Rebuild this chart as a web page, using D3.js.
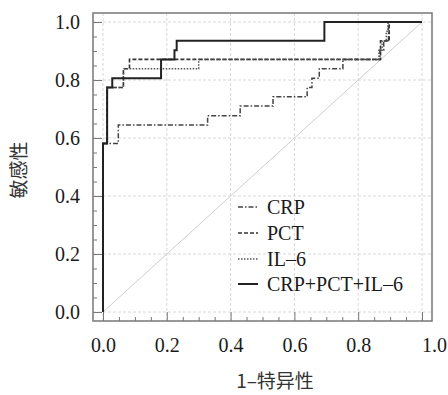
<!DOCTYPE html>
<html><head><meta charset="utf-8">
<script src="https://cdn.jsdelivr.net/npm/d3@7"></script>
<style>
html,body{margin:0;padding:0;background:#fff;}
svg{display:block;}
text{font-family:"Liberation Serif","Times New Roman",serif;fill:#1a1a1a;}
text.cjk{font-family:"Noto Sans CJK SC","Noto Sans",sans-serif;fill:#333;}
</style></head>
<body>
<svg id="c" width="448" height="395"></svg>
<script>
// ---- data (ROC corner points: false-positive rate, sensitivity) ----
const seriesNames = ["CRP", "PCT", "IL\u20136", "CRP+PCT+IL\u20136"];
const crpFpr  = [0, 0, 0.048, 0.328, 0.430, 0.533, 0.640, 0.655, 0.678, 0.752, 0.868, 0.880, 0.895, 1];
const crpTpr  = [0, 0.581, 0.645, 0.677, 0.710, 0.742, 0.774, 0.806, 0.839, 0.871, 0.903, 0.935, 1, 1];
const pctFpr  = [0, 0, 0.012, 0.064, 0.083, 0.870, 0.897, 1];
const pctTpr  = [0, 0.581, 0.774, 0.839, 0.871, 0.935, 1, 1];
const il6Fpr  = [0, 0, 0.012, 0.064, 0.300, 0.865, 0.875, 0.888, 0.893, 1];
const il6Tpr  = [0, 0.581, 0.774, 0.839, 0.871, 0.903, 0.935, 0.968, 1, 1];
const combFpr = [0, 0, 0.013, 0.029, 0.182, 0.224, 0.231, 0.694, 1];
const combTpr = [0, 0.581, 0.774, 0.806, 0.871, 0.903, 0.935, 1, 1];
const majorTicks = [0, 0.2, 0.4, 0.6, 0.8, 1.0];
const tickLabels = ["0.0", "0.2", "0.4", "0.6", "0.8", "1.0"];
const minorTicks = [0.05,0.1,0.15,0.25,0.3,0.35,0.45,0.5,0.55,0.65,0.7,0.75,0.85,0.9,0.95];
const xTitle = "1\u2013特异性";
const yTitle = "敏感性";

// ---- layout ----
const svg = d3.select("#c");
const x = d3.scaleLinear().domain([0, 1]).range([103, 422]);
const y = d3.scaleLinear().domain([0, 1]).range([312, 22]);
const fL = 93, fR = 432, fT = 13, fB = 321;

// grid
const g = svg.append("g");
g.selectAll(".vg").data(majorTicks).join("line")
  .attr("x1", d => x(d)).attr("x2", d => x(d)).attr("y1", fT).attr("y2", fB)
  .attr("stroke", "#d8d8d8").attr("stroke-width", 1).attr("stroke-dasharray", "3,2");
g.selectAll(".hg").data(majorTicks).join("line")
  .attr("y1", d => y(d)).attr("y2", d => y(d)).attr("x1", fL).attr("x2", fR)
  .attr("stroke", "#d8d8d8").attr("stroke-width", 1).attr("stroke-dasharray", "3,2");

// diagonal reference
svg.append("line").attr("x1", x(0)).attr("y1", y(0)).attr("x2", x(1)).attr("y2", y(1))
  .attr("stroke", "#cfcfcf").attr("stroke-width", 1);

// axes
const fmt = d => tickLabels[majorTicks.indexOf(d)];
const xa = svg.append("g").attr("transform", `translate(0,${fB})`)
  .call(d3.axisBottom(x).tickValues(majorTicks).tickFormat(fmt).tickSizeInner(-9).tickSizeOuter(0).tickPadding(17));
const xm = svg.append("g").attr("transform", `translate(0,${fB})`)
  .call(d3.axisBottom(x).tickValues(minorTicks).tickFormat("").tickSizeInner(-4).tickSizeOuter(0));
const ya = svg.append("g").attr("transform", `translate(${fL},0)`)
  .call(d3.axisLeft(y).tickValues(majorTicks).tickFormat(fmt).tickSizeInner(-9).tickSizeOuter(0).tickPadding(13));
const ym = svg.append("g").attr("transform", `translate(${fL},0)`)
  .call(d3.axisLeft(y).tickValues(minorTicks).tickFormat("").tickSizeInner(-4).tickSizeOuter(0));
[xa, xm, ya, ym].forEach(a => {
  a.select(".domain").remove();
  a.selectAll(".tick line").attr("stroke", "#777").attr("stroke-width", 1);
  a.selectAll("text").attr("font-size", 20);
});
xa.selectAll(".tick text").filter(d => d === 1).attr("dx", 12);

// frame
svg.append("rect").attr("x", fL).attr("y", fT).attr("width", fR - fL).attr("height", fB - fT)
  .attr("fill", "none").attr("stroke", "#777").attr("stroke-width", 1.5);

// curves
const styles = [
  {fpr: crpFpr, tpr: crpTpr, dash: "5,2,1.5,2", w: 1.5, c: "#444"},
  {fpr: pctFpr, tpr: pctTpr, dash: "4,2", w: 1.6, c: "#333"},
  {fpr: il6Fpr, tpr: il6Tpr, dash: "1.5,1.5", w: 1.5, c: "#555"},
  {fpr: combFpr, tpr: combTpr, dash: null, w: 2, c: "#222"}
];
const line = d3.line().x(d => x(d[0])).y(d => y(d[1])).curve(d3.curveStepAfter);
styles.forEach(s => {
  const pts = s.fpr.map((f, i) => [f, s.tpr[i]]);
  svg.append("path").attr("d", line(pts)).attr("fill", "none")
    .attr("stroke", s.c).attr("stroke-width", s.w)
    .attr("stroke-dasharray", s.dash);
});

// legend
const lg = svg.append("g");
const rowY = [207, 233, 259, 284];
styles.forEach((s, i) => {
  lg.append("line").attr("x1", 238).attr("x2", 258).attr("y1", rowY[i]).attr("y2", rowY[i])
    .attr("stroke", s.c).attr("stroke-width", s.w).attr("stroke-dasharray", s.dash);
  lg.append("text").attr("x", 267).attr("y", rowY[i]).attr("dy", "0.35em")
    .attr("font-size", 20).text(seriesNames[i]);
});

// titles
svg.append("text").attr("x", 275).attr("y", 381).attr("dy", "0.35em").attr("text-anchor", "middle")
  .attr("font-size", 19).attr("class", "cjk").text(xTitle);
svg.append("text").attr("transform", "translate(19,170) rotate(-90)").attr("dy", "0.35em")
  .attr("text-anchor", "middle").attr("font-size", 19).attr("class", "cjk").text(yTitle);
</script>
</body></html>
